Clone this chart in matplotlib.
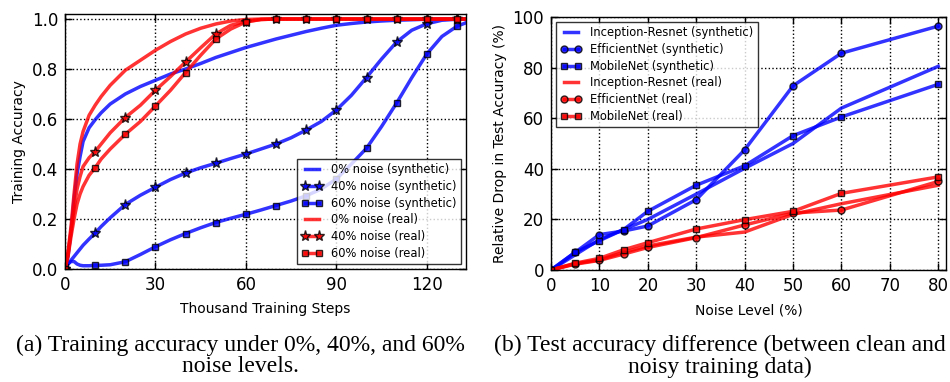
import numpy as np
import matplotlib
matplotlib.use('Agg')
import matplotlib.pyplot as plt

# ---- (a) training accuracy ----
steps = [0, 1, 2, 3, 4, 5, 6, 8, 10, 12, 15, 20, 25, 30, 35, 40, 45, 50, 55, 60,
         65, 70, 75, 80, 85, 90, 95, 100, 105, 110, 115, 120, 125, 130, 133]

syn_0 = [0, 0.05, 0.15, 0.28, 0.38, 0.45, 0.51, 0.565, 0.597, 0.625, 0.66, 0.70, 0.73,
         0.755, 0.78, 0.80, 0.822, 0.846, 0.866, 0.886, 0.903, 0.92, 0.935, 0.95, 0.963,
         0.975, 0.982, 0.988, 0.992, 0.995, 0.997, 0.999, 1.0, 1.0, 1.0]
syn_40 = [0, 0.02, 0.035, 0.05, 0.065, 0.08, 0.095, 0.12, 0.144, 0.17, 0.205, 0.258,
          0.295, 0.327, 0.358, 0.384, 0.405, 0.423, 0.442, 0.46, 0.48, 0.50, 0.525,
          0.556, 0.59, 0.636, 0.695, 0.766, 0.84, 0.908, 0.955, 0.981, 0.995, 0.999, 1.0]
syn_60 = [0.01, 0.02, 0.03, 0.03, 0.02, 0.015, 0.013, 0.013, 0.015, 0.015, 0.017, 0.029,
          0.058, 0.089, 0.117, 0.142, 0.165, 0.186, 0.203, 0.219, 0.236, 0.254, 0.272,
          0.293, 0.32, 0.36, 0.42, 0.483, 0.57, 0.664, 0.765, 0.86, 0.93, 0.971, 0.985]
real_0 = [0, 0.07, 0.17, 0.3, 0.42, 0.5, 0.55, 0.615, 0.655, 0.69, 0.735, 0.795, 0.835,
          0.875, 0.91, 0.94, 0.963, 0.98, 0.992, 0.998, 1.0, 1.0, 1.0, 1.0, 1.0, 1.0,
          1.0, 1.0, 1.0, 1.0, 1.0, 1.0, 1.0, 1.0, 1.0]
real_40 = [0, 0.06, 0.15, 0.24, 0.32, 0.37, 0.41, 0.445, 0.47, 0.5, 0.545, 0.606, 0.655,
           0.715, 0.77, 0.828, 0.885, 0.94, 0.975, 0.99, 0.998, 1.0, 1.0, 1.0, 1.0, 1.0,
           1.0, 1.0, 1.0, 1.0, 1.0, 1.0, 1.0, 1.0, 1.0]
real_60 = [0, 0.05, 0.13, 0.2, 0.26, 0.3, 0.33, 0.375, 0.405, 0.44, 0.48, 0.539, 0.59,
           0.652, 0.715, 0.786, 0.855, 0.92, 0.96, 0.988, 0.998, 1.0, 1.0, 1.0, 1.0, 1.0,
           1.0, 1.0, 1.0, 1.0, 1.0, 1.0, 1.0, 1.0, 1.0]

labels_a = ['0% noise (synthetic)', '40% noise (synthetic)', '60% noise (synthetic)',
            '0% noise (real)', '40% noise (real)', '60% noise (real)']

# ---- (b) relative drop in test accuracy ----
noise = [0, 5, 10, 15, 20, 30, 40, 50, 60, 80]
ir_syn = [0, 6, 12, 16, 20, 30, 40.2, 50, 64, 80.5]
eff_syn = [0, 7, 14, 15.4, 17.4, 27.8, 47.5, 72.8, 85.7, 96.4]
mob_syn = [0, 7, 11.6, 16, 23.2, 33.5, 41.2, 53.1, 60.5, 73.4]
ir_real = [0, 2.5, 4, 7, 9.5, 13, 15, 22, 26.2, 33.5]
eff_real = [0, 2.3, 3.8, 6.3, 8.9, 12.8, 17.8, 22.5, 23.7, 35]
mob_real = [0, 2.7, 4.6, 8, 10.8, 16.2, 19.9, 23.2, 30.3, 36.8]

labels_b = ['Inception-Resnet (synthetic)', 'EfficientNet (synthetic)', 'MobileNet (synthetic)',
            'Inception-Resnet (real)', 'EfficientNet (real)', 'MobileNet (real)']

caption_a = '(a) Training accuracy under 0%, 40%, and 60%\nnoise levels.'
caption_b = '(b) Test accuracy difference (between clean and\nnoisy training data)'


def style_axes(ax):
    ax.grid(True, color='k', linestyle=':', linewidth=1)
    ax.tick_params(direction='in', top=True, right=True, length=5, width=1,
                   labelsize=12, pad=5)
    for sp in ax.spines.values():
        sp.set_linewidth(1)


def add_legend(ax, loc):
    leg = ax.legend(loc=loc, fontsize=8.3, numpoints=2, handlelength=1.8,
                    labelspacing=0.32, fancybox=False, borderaxespad=0.4)
    leg.get_frame().set_edgecolor('k')
    leg.get_frame().set_linewidth(1)
    return leg


fig = plt.figure(figsize=(9.5, 3.82), dpi=100)
ax1 = fig.add_axes([65 / 950, 113 / 382, 401 / 950, 255 / 382])
ax2 = fig.add_axes([551 / 950, 112 / 382, 395 / 950, 253 / 382])

mk_idx = [i for i, s in enumerate(steps) if s % 10 == 0]
line_kw = dict(lw=2.5, alpha=0.8, mec='k', mew=1)

series_a = [(syn_0, 'b', None, 6), (syn_40, 'b', '*', 8), (syn_60, 'b', 's', 5),
            (real_0, 'r', None, 6), (real_40, 'r', '*', 8), (real_60, 'r', 's', 5)]
for (vals, col, mk, ms), lab in zip(series_a, labels_a):
    ax1.plot(steps, vals, color=col, marker=mk, ms=ms, markevery=mk_idx,
             label=lab, **line_kw)

ax1.set_xlim(0, 133)
ax1.set_ylim(0, 1.02)
ax1.set_xticks([0, 30, 60, 90, 120])
ax1.set_yticks(np.arange(0, 1.01, 0.2))
ax1.set_yticklabels(['0.0', '0.2', '0.4', '0.6', '0.8', '1.0'])
ax1.set_xlabel('Thousand Training Steps', fontsize=10, labelpad=6)
ax1.set_ylabel('Training Accuracy', fontsize=10, labelpad=4)
style_axes(ax1)
add_legend(ax1, 'lower right')

series_b = [(ir_syn, 'b', None), (eff_syn, 'b', 'o'), (mob_syn, 'b', 's'),
            (ir_real, 'r', None), (eff_real, 'r', 'o'), (mob_real, 'r', 's')]
for (vals, col, mk), lab in zip(series_b, labels_b):
    ax2.plot(noise, vals, color=col, marker=mk, ms=5, label=lab, **line_kw)

ax2.set_xlim(0, 81.6)
ax2.set_ylim(0, 100)
ax2.set_xticks(range(0, 81, 10))
ax2.set_yticks(range(0, 101, 20))
ax2.set_xlabel('Noise Level (%)', fontsize=10, labelpad=6)
ax2.set_ylabel('Relative Drop in Test Accuracy (%)', fontsize=10, labelpad=4)
style_axes(ax2)
add_legend(ax2, 'upper left')

fig.text(240 / 950, 1 - 356 / 382, caption_a, ha='center', va='center',
         fontsize=17, family='Liberation Serif', linespacing=1.05)
fig.text(720 / 950, 1 - 356 / 382, caption_b, ha='center', va='center',
         fontsize=17, family='Liberation Serif', linespacing=1.05)

fig.savefig('out.png', dpi=100, facecolor='white')
